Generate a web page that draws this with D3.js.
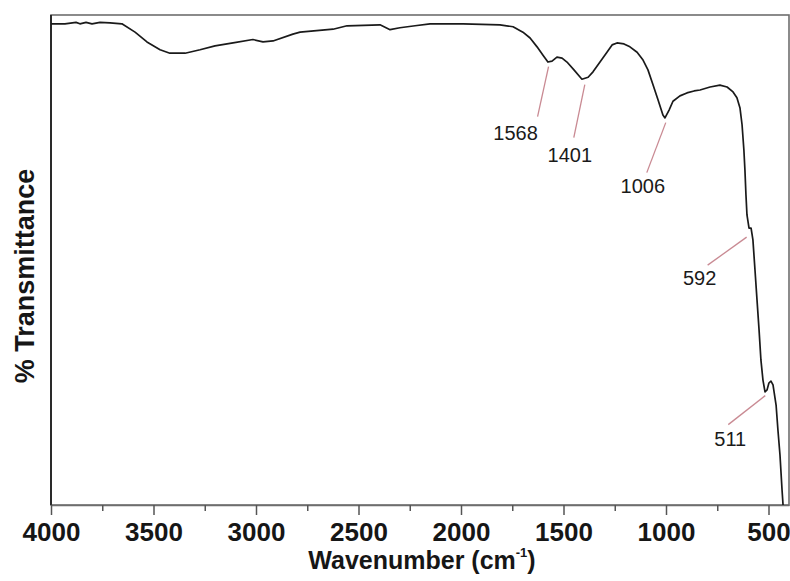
<!DOCTYPE html>
<html><head><meta charset="utf-8">
<script src="https://cdn.jsdelivr.net/npm/d3@7/dist/d3.min.js"></script>
<style>
body{margin:0;background:#fff;}
svg{display:block;}
</style></head>
<body>
<svg id="chart" width="790" height="581"></svg>
<script>
// ---- data ----
const wavenumbers = [4000,3932,3878,3859,3829,3800,3761,3712,3654,3590,3532,3468,3420,3346,3273,3200,3112,3015,2966,2917,2820,2785,2624,2556,2395,2346,2298,2224,2151,1990,1810,1746,1698,1663,1629,1600,1576,1556,1532,1507,1483,1449,1410,1380,1356,1322,1288,1263,1239,1205,1176,1141,1112,1088,1063,1039,1015,1005,985,966,932,898,863,834,785,737,702,673,654,639,629,620,615,610,605,595,585,576,566,556,546,537,527,517,507,498,488,478,463,454,444,434,429];
const transmittance = [98.2,98.2,98.5,98.2,98.5,98.2,98.5,98.4,98.2,96.5,94.5,92.9,92.2,92.2,92.9,93.7,94.3,95.0,94.5,94.7,96.1,96.5,97.1,97.8,98.0,97.0,97.4,97.8,98.2,98.2,98.0,97.6,96.5,95.3,93.5,91.8,90.4,90.6,91.4,91.2,90.4,88.8,86.9,87.3,88.4,90.4,92.4,93.9,94.3,94.1,93.5,92.4,90.8,88.8,85.7,82.7,79.6,79.0,80.6,82.4,83.5,84.1,84.5,84.7,85.3,85.7,85.3,84.3,83.1,81.0,77.6,72.4,68.4,63.3,59.2,56.5,56.5,54.1,48.0,41.8,35.7,29.6,25.5,23.1,23.5,24.9,25.3,24.5,20.4,15.3,10.2,3.1,0];
const peakLabels = [1568,1401,1006,592,511];
const majorTicks = [4000,3500,3000,2500,2000,1500,1000,500];
const minorTicks = [3750,3250,2750,2250,1750,1250,750];

// ---- layout (styling) ----
const L = 51, R = 789, T = 15, B = 505;
// leader-line start offset from curve point, line vector, text offset from line end
const annoLayout = [
  {sx:-1, sy:5, dx:-11, dy:50, tx:-22, ty:23},
  {sx:1, sy:6, dx:-11, dy:53, tx:-4, ty:24},
  {sx:1, sy:5, dx:-19, dy:50, tx:-4, ty:20},
  {sx:-3, sy:9, dx:-39, dy:28, tx:-8, ty:20},
  {sx:-1, sy:5, dx:-37, dy:29, tx:2, ty:21}
];

const svg = d3.select("#chart");
const x = d3.scaleLinear().domain([4000,400]).range([L,R]);
const y = d3.scaleLinear().domain([0,100]).range([B,T]);
const pts = wavenumbers.map((w,i)=>[w,transmittance[i]]);
const interp = w => {
  for(let i=0;i<pts.length-1;i++){
    const [w0,t0]=pts[i],[w1,t1]=pts[i+1];
    if(w<=w0 && w>=w1){ return t0+(t1-t0)*(w0-w)/(w0-w1); }
  }
  return pts[pts.length-1][1];
};

// frame
svg.append("rect").attr("x",L).attr("y",T).attr("width",R-L).attr("height",B-T)
  .attr("fill","none").attr("stroke","#6e6e6e").attr("stroke-width",1.6);
svg.append("line").attr("x1",L).attr("x2",L).attr("y1",T).attr("y2",B)
  .attr("stroke","#2a2a2a").attr("stroke-width",2);

// axes
const font = "'Liberation Sans', Arial, sans-serif";
const gx = svg.append("g").attr("transform",`translate(0,${B})`)
  .call(d3.axisBottom(x).tickValues(majorTicks).tickSize(10).tickSizeOuter(0).tickPadding(8).tickFormat(d3.format("d")));
gx.select(".domain").attr("stroke","#6e6e6e").attr("stroke-width",1.6);
gx.selectAll(".tick line").attr("stroke","#555").attr("stroke-width",1.5);
gx.selectAll(".tick text").attr("font-family",font).attr("font-size",26).attr("font-weight","bold").attr("fill","#161616");
const gm = svg.append("g").attr("transform",`translate(0,${B})`)
  .call(d3.axisBottom(x).tickValues(minorTicks).tickSize(6).tickFormat(""));
gm.select(".domain").remove();
gm.selectAll(".tick line").attr("stroke","#555").attr("stroke-width",1.5);

// axis titles
const xt = svg.append("text").attr("x",(L+R)/2+2).attr("y",569).attr("text-anchor","middle")
  .attr("font-family",font).attr("font-size",25).attr("font-weight","bold").attr("fill","#161616");
xt.append("tspan").text("Wavenumber (cm");
xt.append("tspan").attr("font-size",13).attr("dy",-12).text("-1");
xt.append("tspan").attr("dy",12).text(")");
svg.append("text").attr("transform","translate(34,276) rotate(-90)").attr("text-anchor","middle")
  .attr("font-family",font).attr("font-size",27).attr("font-weight","bold").attr("fill","#161616")
  .text("% Transmittance");

// spectrum
svg.append("path").datum(pts)
  .attr("d", d3.line().x(d=>x(d[0])).y(d=>y(d[1])))
  .attr("fill","none").attr("stroke","#1a1a1a").attr("stroke-width",1.7).attr("stroke-linejoin","round");

// annotations
peakLabels.forEach((w,i)=>{
  const a = annoLayout[i];
  const px = x(w)+a.sx, py = y(interp(w))+a.sy;
  svg.append("line").attr("x1",px).attr("y1",py).attr("x2",px+a.dx).attr("y2",py+a.dy)
    .attr("stroke","#c98a93").attr("stroke-width",1.3);
  svg.append("text").attr("x",px+a.dx+a.tx).attr("y",py+a.dy+a.ty).attr("text-anchor","middle")
    .attr("font-family",font).attr("font-size",20).attr("fill","#1a1a1a").text(w);
});
</script>
</body></html>
